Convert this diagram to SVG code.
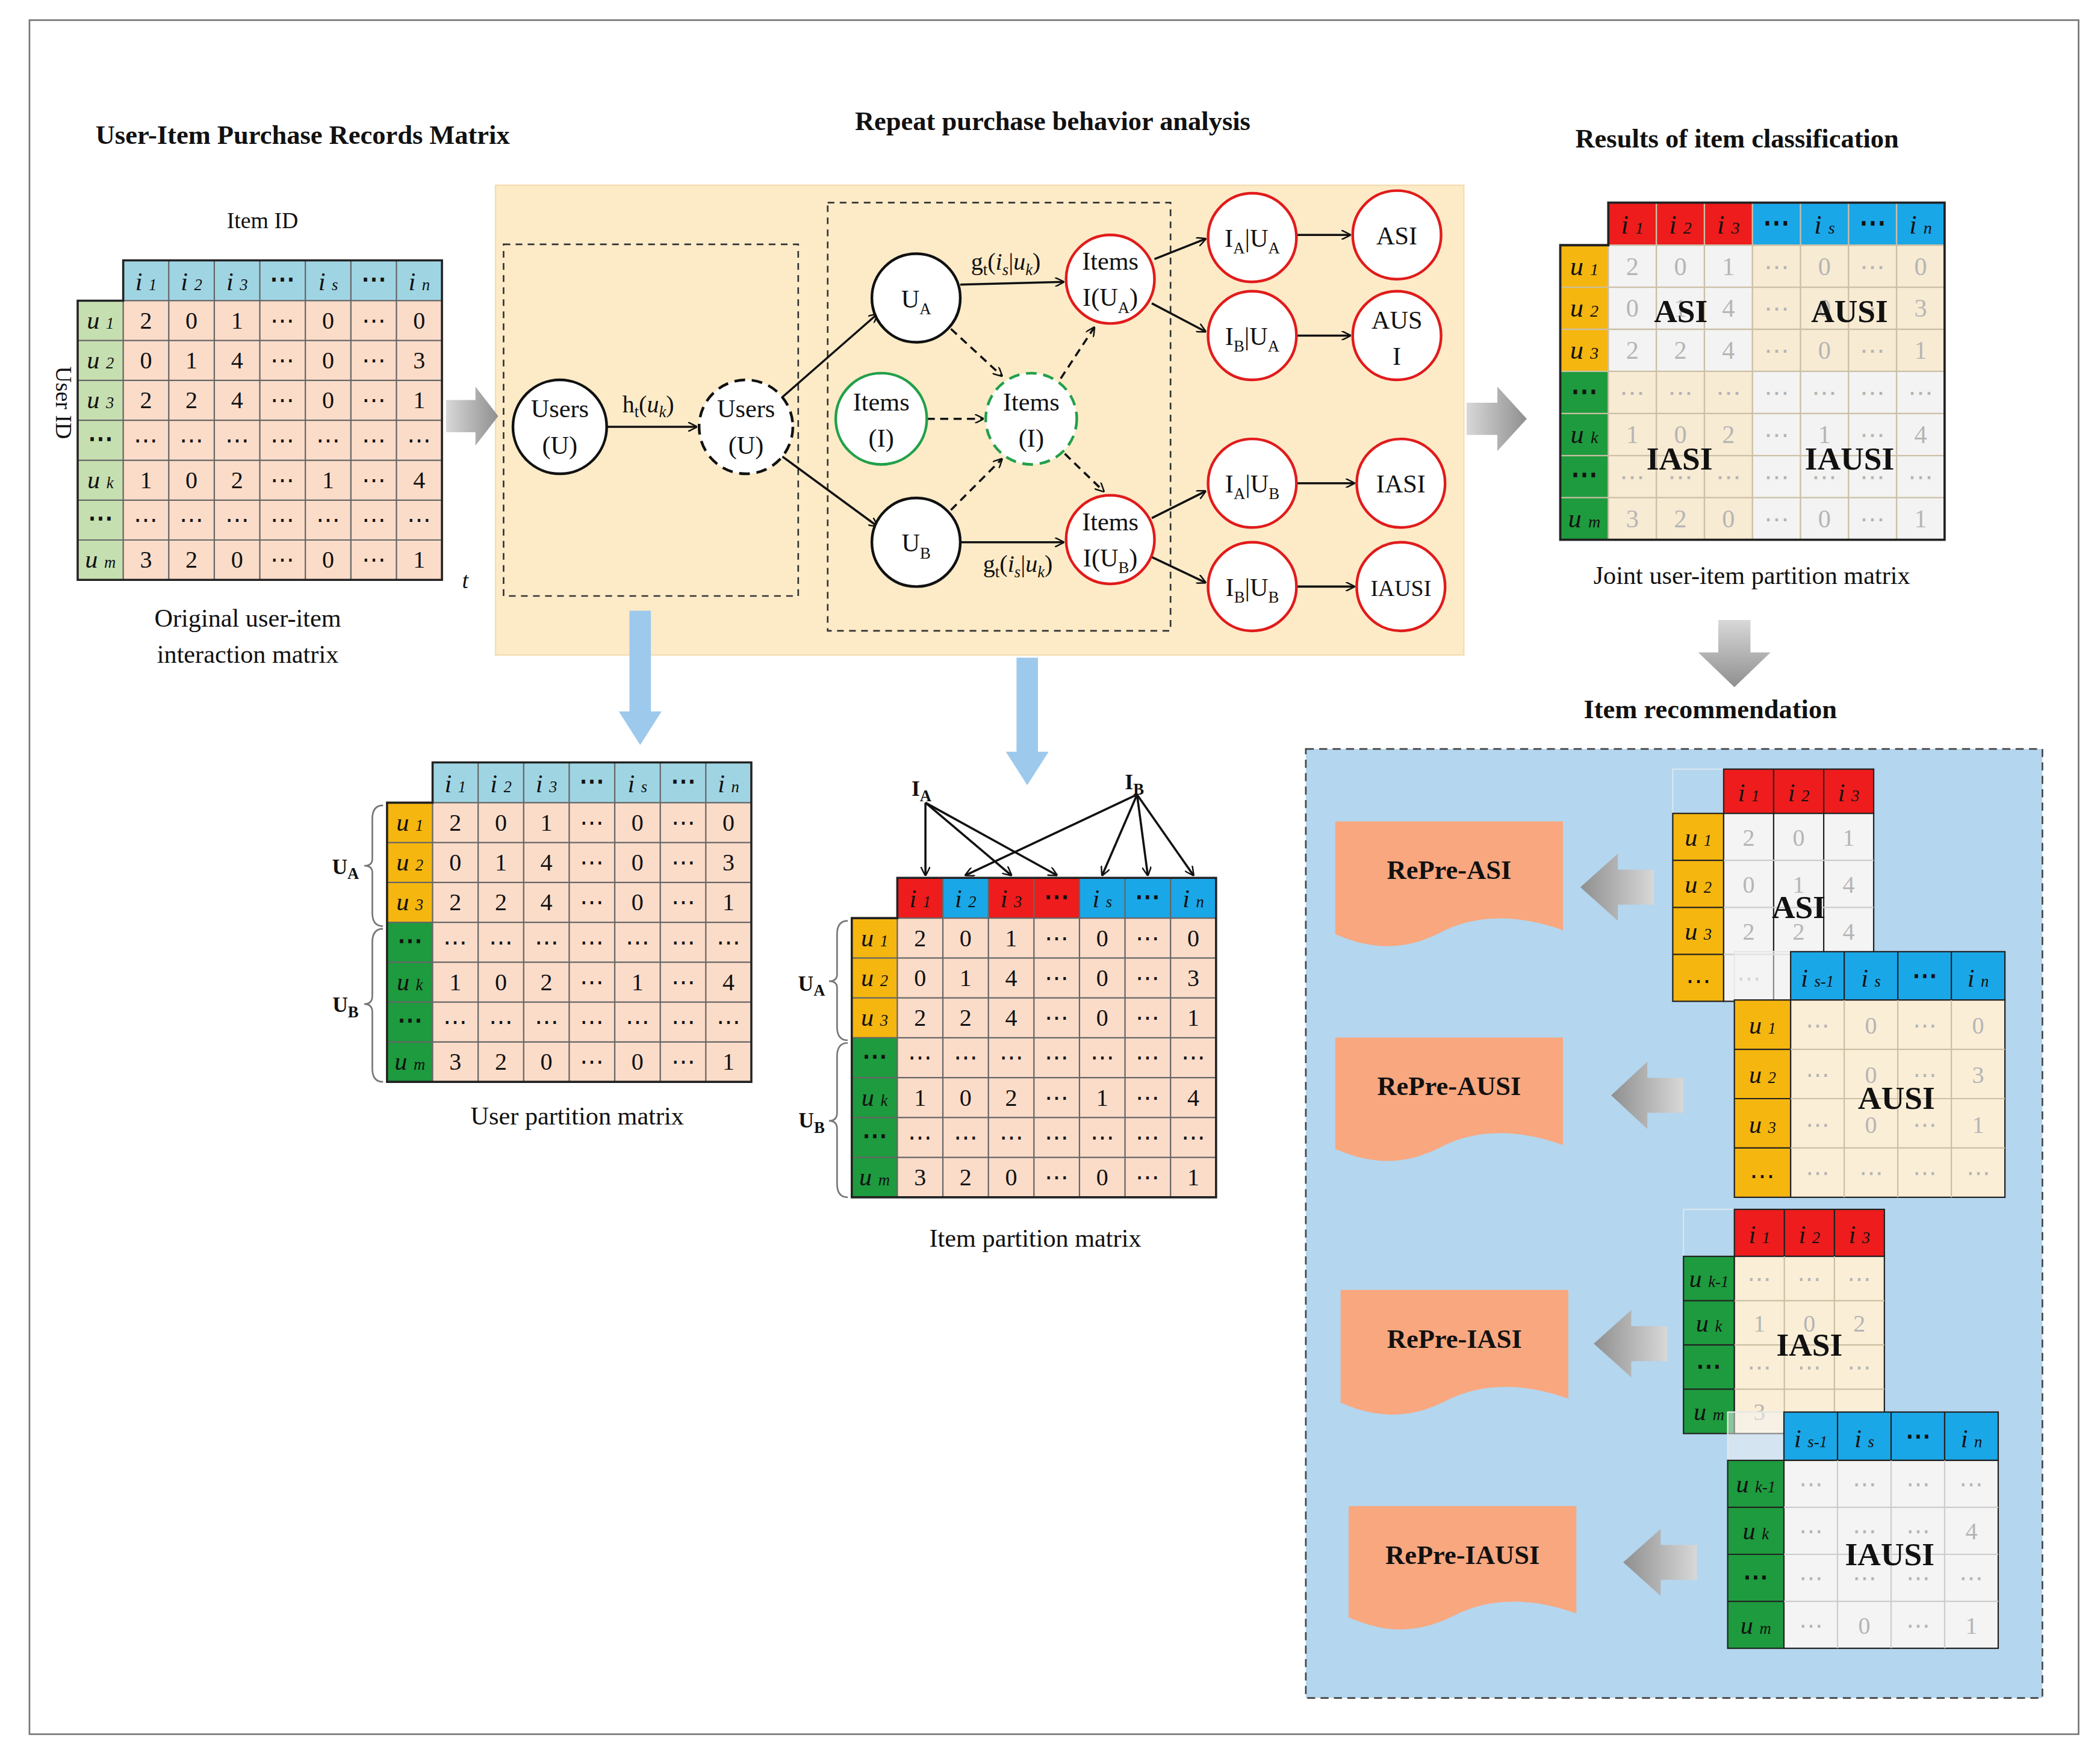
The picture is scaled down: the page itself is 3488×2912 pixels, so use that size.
<svg xmlns="http://www.w3.org/2000/svg" xmlns:xlink="http://www.w3.org/1999/xlink" width="3488" height="2912" viewBox="0 0 3488 2912">
<style>
text{font-family:"Liberation Serif","DejaVu Serif",serif;fill:#111}
.d text{fill:inherit}
.t{font-size:20px;font-weight:bold;text-anchor:middle}
.c{font-size:19px;text-anchor:middle}
.n{font-size:19px;text-anchor:middle}
.sb{font-size:12px}
.hd{font-size:19px;font-style:italic;text-anchor:middle}
.big{font-size:24px;font-weight:bold;text-anchor:middle}
.d{font-size:18px;text-anchor:middle}
.node{fill:#fff;stroke:#111;stroke-width:2}
.red{fill:#fff;stroke:#e11b1b;stroke-width:2}
.grn{fill:#fff;stroke:#22a04a;stroke-width:2}
.e{fill:none;stroke:#111;stroke-width:1.6;marker-end:url(#ah)}
.ed{fill:none;stroke:#111;stroke-width:1.6;stroke-dasharray:6 4;marker-end:url(#ah)}
.box{fill:none;stroke:#333;stroke-width:1.2;stroke-dasharray:5 4}
.lbl{font-size:18px;text-anchor:middle}
.rp{fill:#f9a77f}
.rpt{font-size:20px;font-weight:bold;text-anchor:middle}
</style>
<defs>
<marker id="ah" viewBox="0 0 10 10" refX="9" refY="5" markerWidth="7" markerHeight="7" orient="auto" markerUnits="userSpaceOnUse"><path d="M0,0 L10,5 L0,10" fill="none" stroke="#111" stroke-width="1.6"/></marker>
<linearGradient id="gg" x1="0" x2="1" y1="0" y2="0"><stop offset="0" stop-color="#d8d8d8"/><stop offset="1" stop-color="#8f8f8f"/></linearGradient>
<linearGradient id="ggl" x1="1" x2="0" y1="0" y2="0"><stop offset="0" stop-color="#d8d8d8"/><stop offset="1" stop-color="#8f8f8f"/></linearGradient>
<linearGradient id="ggd" x1="0" x2="0" y1="0" y2="1"><stop offset="0" stop-color="#d8d8d8"/><stop offset="1" stop-color="#8f8f8f"/></linearGradient>
<g id="grid">
<path d="M34,0V238M68,0V238M102,0V238M136,0V238M170,0V238M204,0V238M238,0V238M0,30H272M0,59.7H272M0,89.4H272M0,119.1H272M0,148.9H272M0,178.6H272M0,208.3H272" fill="none" stroke="currentColor" stroke-width="1"/>
<path d="M34,0H272V238H0V30H34Z" fill="none" stroke="#222" stroke-width="1.6"/>
<g class="d">
<text x="51 85 119 153 187 221 255" y="51">201⋯0⋯0</text>
<text x="51 85 119 153 187 221 255" y="80.6">014⋯0⋯3</text>
<text x="51 85 119 153 187 221 255" y="110.3">224⋯0⋯1</text>
<text x="51 85 119 153 187 221 255" y="140">⋯⋯⋯⋯⋯⋯⋯</text>
<text x="51 85 119 153 187 221 255" y="169.7">102⋯1⋯4</text>
<text x="51 85 119 153 187 221 255" y="199.4">⋯⋯⋯⋯⋯⋯⋯</text>
<text x="51 85 119 153 187 221 255" y="229.1">320⋯0⋯1</text>
</g>
<g class="hd">
<text x="51" y="22">i <tspan class="sb">1</tspan></text>
<text x="85" y="22">i <tspan class="sb">2</tspan></text>
<text x="119" y="22">i <tspan class="sb">3</tspan></text>
<text x="153" y="20" style="font-style:normal;font-weight:bold">⋯</text>
<text x="187" y="22">i <tspan class="sb">s</tspan></text>
<text x="221" y="20" style="font-style:normal;font-weight:bold">⋯</text>
<text x="255" y="22">i <tspan class="sb">n</tspan></text>
<text x="17" y="51">u <tspan class="sb">1</tspan></text>
<text x="17" y="80.6">u <tspan class="sb">2</tspan></text>
<text x="17" y="110.3">u <tspan class="sb">3</tspan></text>
<text x="17" y="139" style="font-style:normal;font-weight:bold">⋯</text>
<text x="17" y="169.7">u <tspan class="sb">k</tspan></text>
<text x="17" y="198" style="font-style:normal;font-weight:bold">⋯</text>
<text x="17" y="229.1">u <tspan class="sb">m</tspan></text>
</g>
</g>
</defs>
<rect width="3488" height="2912" fill="#fff"/>
<g transform="scale(2.2245 2.2297)">
<rect x="22" y="15" width="1530" height="1277" fill="none" stroke="#777" stroke-width="1.2"/>
<g id="titles">
<text class="t" x="226" y="107">User-Item Purchase Records Matrix</text>
<text class="t" x="786" y="97">Repeat purchase behavior analysis</text>
<text class="t" x="1297" y="110">Results of item classification</text>
<text class="t" x="1277" y="535">Item recommendation</text>
</g>
<g id="matrix-original">
<g transform="translate(58,194)">
<rect x="34" y="0" width="238" height="30" fill="#9fd5e3"/>
<rect x="0" y="30" width="34" height="208" fill="#c6dfb0"/>
<rect x="34" y="30" width="238" height="208" fill="#fbdcc9"/>
<use xlink:href="#grid" style="color:#666;fill:#111"/>
</g>
<text class="c" x="196" y="170" style="font-size:17px">Item ID</text>
<text class="c" x="42" y="300" style="font-size:17px" transform="rotate(90 42 300)">User ID</text>
<text x="345" y="438" style="font-size:17px;font-style:italic">t</text>
<text class="c" x="185" y="467">Original user-item</text>
<text class="c" x="185" y="494">interaction matrix</text>
</g>
<g id="analysis-panel">
<rect x="370" y="138" width="723" height="350" fill="#fdebc8" stroke="#f3dcae"/>
<rect class="box" x="376" y="182" width="220" height="262"/>
<rect class="box" x="618" y="151" width="256" height="319"/>
</g>
<g id="connectors">
<path class="e" d="M453,318H520"/>
<path class="e" d="M584,296L655,234"/>
<path class="e" d="M584,340L655,392"/>
<path class="e" d="M717,212L794,210"/>
<path class="e" d="M717,404L794,404"/>
<path class="ed" d="M692,312H734"/>
<path class="ed" d="M710,245L748,280"/>
<path class="ed" d="M710,380L748,342"/>
<path class="ed" d="M792,282L817,244"/>
<path class="ed" d="M795,338L824,366"/>
<path class="e" d="M862,193L900,178"/>
<path class="e" d="M860,226L900,247"/>
<path class="e" d="M860,386L900,366"/>
<path class="e" d="M860,415L900,434"/>
<path class="e" d="M968,175H1008"/>
<path class="e" d="M968,250H1008"/>
<path class="e" d="M968,360H1011"/>
<path class="e" d="M968,437H1011"/>
<path class="e" d="M691,598L691,652"/>
<path class="e" d="M691,598L755,652"/>
<path class="e" d="M691,598L789,652"/>
<path class="e" d="M849,592L721,652"/>
<path class="e" d="M849,592L823,652"/>
<path class="e" d="M849,592L857,652"/>
<path class="e" d="M849,592L891,652"/>
<text class="lbl" x="484" y="307">h<tspan class="sb" dy="4">t</tspan><tspan dy="-4">(</tspan><tspan font-style="italic">u</tspan><tspan class="sb" dy="4" font-style="italic">k</tspan><tspan dy="-4">)</tspan></text>
<text class="lbl" x="751" y="201">g<tspan class="sb" dy="4">t</tspan><tspan dy="-4">(</tspan><tspan font-style="italic">i</tspan><tspan class="sb" dy="4" font-style="italic">s</tspan><tspan dy="-4">|</tspan><tspan font-style="italic">u</tspan><tspan class="sb" dy="4" font-style="italic">k</tspan><tspan dy="-4">)</tspan></text>
<text class="lbl" x="760" y="426">g<tspan class="sb" dy="4">t</tspan><tspan dy="-4">(</tspan><tspan font-style="italic">i</tspan><tspan class="sb" dy="4" font-style="italic">s</tspan><tspan dy="-4">|</tspan><tspan font-style="italic">u</tspan><tspan class="sb" dy="4" font-style="italic">k</tspan><tspan dy="-4">)</tspan></text>
</g>
<g id="n-users"><circle class="node" cx="418" cy="318" r="35"/><text class="n" x="418" y="311">Users</text><text class="n" x="418" y="338">(U)</text></g>
<g id="n-users2"><circle class="node" cx="557" cy="318" r="35" style="stroke-dasharray:8 5"/><text class="n" x="557" y="311">Users</text><text class="n" x="557" y="338">(U)</text></g>
<g id="n-ua"><circle class="node" cx="684" cy="222" r="33"/><text class="n" x="684" y="229">U<tspan class="sb" dy="5">A</tspan></text></g>
<g id="n-ub"><circle class="node" cx="684" cy="404" r="33"/><text class="n" x="684" y="411">U<tspan class="sb" dy="5">B</tspan></text></g>
<g id="n-items"><circle class="grn" cx="658" cy="312" r="34"/><text class="n" x="658" y="306">Items</text><text class="n" x="658" y="333">(I)</text></g>
<g id="n-items2"><circle class="grn" cx="770" cy="312" r="34" style="stroke-dasharray:8 5"/><text class="n" x="770" y="306">Items</text><text class="n" x="770" y="333">(I)</text></g>
<g id="n-iua"><circle class="red" cx="829" cy="208" r="33"/><text class="n" x="829" y="201">Items</text><text class="n" x="829" y="228">I(U<tspan class="sb" dy="5">A</tspan><tspan dy="-5">)</tspan></text></g>
<g id="n-iub"><circle class="red" cx="829" cy="402" r="33"/><text class="n" x="829" y="395">Items</text><text class="n" x="829" y="422">I(U<tspan class="sb" dy="5">B</tspan><tspan dy="-5">)</tspan></text></g>
<g id="n-iaua"><circle class="red" cx="935" cy="177" r="33"/><text class="n" x="935" y="184">I<tspan class="sb" dy="5">A</tspan><tspan dy="-5">|U</tspan><tspan class="sb" dy="5">A</tspan></text></g>
<g id="n-ibua"><circle class="red" cx="935" cy="250" r="33"/><text class="n" x="935" y="257">I<tspan class="sb" dy="5">B</tspan><tspan dy="-5">|U</tspan><tspan class="sb" dy="5">A</tspan></text></g>
<g id="n-iaub"><circle class="red" cx="935" cy="360" r="33"/><text class="n" x="935" y="367">I<tspan class="sb" dy="5">A</tspan><tspan dy="-5">|U</tspan><tspan class="sb" dy="5">B</tspan></text></g>
<g id="n-ibub"><circle class="red" cx="935" cy="437" r="33"/><text class="n" x="935" y="444">I<tspan class="sb" dy="5">B</tspan><tspan dy="-5">|U</tspan><tspan class="sb" dy="5">B</tspan></text></g>
<g id="n-asi"><circle class="red" cx="1043" cy="175" r="33"/><text class="n" x="1043" y="182">ASI</text></g>
<g id="n-ausi"><circle class="red" cx="1043" cy="250" r="33"/><text class="n" x="1043" y="245">AUS</text><text class="n" x="1043" y="272">I</text></g>
<g id="n-iasi"><circle class="red" cx="1046" cy="360" r="33"/><text class="n" x="1046" y="367">IASI</text></g>
<g id="n-iausi"><circle class="red" cx="1046" cy="437" r="33"/><text class="n" x="1046" y="444" style="font-size:17px">IAUSI</text></g>
<g id="big-arrows">
<path d="M333,298H355V288L372,310L355,332V322H333Z" fill="url(#gg)"/>
<path d="M1095,300H1118V288L1140,312L1118,336V324H1095Z" fill="url(#gg)"/>
<path d="M1283,462H1307V486H1322L1295,512L1268,486H1283Z" fill="url(#ggd)"/>
<path d="M470,455H486V530H494L478,555L462,530H470Z" fill="#9dc9ec"/>
<path d="M759,490H775V560H783L767,585L751,560H759Z" fill="#9dc9ec"/>
</g>
<g id="matrix-user">
<g transform="translate(289,568)">
<rect x="34" y="0" width="238" height="30" fill="#9fd5e3"/>
<rect x="0" y="30" width="34" height="89.1" fill="#f5b60f"/>
<rect x="0" y="119.1" width="34" height="118.9" fill="#1e9b3e"/>
<rect x="34" y="30" width="238" height="208" fill="#fbdcc9"/>
<use xlink:href="#grid" style="color:#666;fill:#111"/>
</g>
<path d="M286,600Q278,600 278,610V640Q278,645 272,645Q278,645 278,650V680Q278,690 286,690M286,692Q278,692 278,702V742Q278,748 272,748Q278,748 278,754V796Q278,806 286,806" fill="none" stroke="#777" stroke-width="1.2"/>
<text class="c" x="258" y="651" style="font-weight:bold;font-size:16px">U<tspan class="sb" dy="4">A</tspan></text>
<text class="c" x="258" y="754" style="font-weight:bold;font-size:16px">U<tspan class="sb" dy="4">B</tspan></text>
<text class="c" x="431" y="838">User partition matrix</text>
</g>
<g id="matrix-item">
<g transform="translate(636,654)">
<rect x="34" y="0" width="34" height="30" fill="#ee1c1c"/>
<rect x="68" y="0" width="34" height="30" fill="#1aa7e8"/>
<rect x="102" y="0" width="68" height="30" fill="#ee1c1c"/>
<rect x="170" y="0" width="102" height="30" fill="#1aa7e8"/>
<rect x="0" y="30" width="34" height="89.1" fill="#f5b60f"/>
<rect x="0" y="119.1" width="34" height="118.9" fill="#1e9b3e"/>
<rect x="34" y="30" width="238" height="208" fill="#fbdcc9"/>
<use xlink:href="#grid" style="color:#666;fill:#111"/>
</g>
<path d="M633,686Q625,686 625,696V726Q625,731 619,731Q625,731 625,736V765Q625,775 633,775M633,777Q625,777 625,787V829Q625,835 619,835Q625,835 625,841V882Q625,892 633,892" fill="none" stroke="#777" stroke-width="1.2"/>
<text class="c" x="606" y="738" style="font-weight:bold;font-size:16px">U<tspan class="sb" dy="4">A</tspan></text>
<text class="c" x="606" y="840" style="font-weight:bold;font-size:16px">U<tspan class="sb" dy="4">B</tspan></text>
<text class="c" x="688" y="593" style="font-weight:bold;font-size:16px">I<tspan class="sb" dy="4">A</tspan></text>
<text class="c" x="847" y="588" style="font-weight:bold;font-size:16px">I<tspan class="sb" dy="4">B</tspan></text>
<text class="c" x="773" y="929">Item partition matrix</text>
</g>
<g id="matrix-joint">
<g transform="translate(1165,151) scale(1.055)">
<rect x="34" y="0" width="102" height="30" fill="#ee1c1c"/>
<rect x="136" y="0" width="136" height="30" fill="#1aa7e8"/>
<rect x="0" y="30" width="34" height="89.1" fill="#f5b60f"/>
<rect x="0" y="119.1" width="34" height="118.9" fill="#1e9b3e"/>
<rect x="34" y="30" width="102" height="89.1" fill="#f3f3f3"/>
<rect x="136" y="30" width="136" height="89.1" fill="#f8ebd3"/>
<rect x="34" y="119.1" width="102" height="118.9" fill="#f8ebd3"/>
<rect x="136" y="119.1" width="136" height="118.9" fill="#f3f3f3"/>
<use xlink:href="#grid" style="color:#cbbfa6;fill:#b5b5b5"/>
</g>
<text class="big" x="1255" y="240">ASI</text>
<text class="big" x="1381" y="240">AUSI</text>
<text class="big" x="1254" y="350">IASI</text>
<text class="big" x="1381" y="350">IAUSI</text>
<text class="c" x="1308" y="435">Joint user-item partition matrix</text>
</g>
<g id="rec-panel">
<rect x="975" y="558" width="550" height="707" fill="#b4d6ee" stroke="#444" stroke-width="1.2" stroke-dasharray="6 4"/>
</g>
<g id="rp-asi"><path class="rp" d="M997,612H1167V693C1130,680 1100,682 1075,695C1045,710 1020,706 997,696Z"/><text class="rpt" x="1082" y="655">RePre-ASI</text></g>
<g id="rp-ausi"><path class="rp" d="M997,773H1167V853C1130,840 1100,842 1075,855C1045,870 1020,866 997,856Z"/><text class="rpt" x="1082" y="816">RePre-AUSI</text></g>
<g id="rp-iasi"><path class="rp" d="M1001,961H1171V1042C1134,1029 1104,1031 1079,1044C1049,1059 1024,1055 1001,1045Z"/><text class="rpt" x="1086" y="1004">RePre-IASI</text></g>
<g id="rp-iausi"><path class="rp" d="M1007,1122H1177V1202C1140,1189 1110,1191 1085,1204C1055,1219 1030,1215 1007,1205Z"/><text class="rpt" x="1092" y="1165">RePre-IAUSI</text></g>
<g id="rec-arrows">
<path d="M1235,648H1208V636L1180,661L1208,686V674H1235Z" fill="url(#ggl)"/>
<path d="M1257,803H1230V791L1203,816L1230,841V829H1257Z" fill="url(#ggl)"/>
<path d="M1245,988H1218V976L1190,1001L1218,1026V1014H1245Z" fill="url(#ggl)"/>
<path d="M1267,1151H1240V1139L1212,1164L1240,1189V1177H1267Z" fill="url(#ggl)"/>
</g>
<g id="rec-asi">
<rect x="1249" y="573" width="38" height="33" fill="none" stroke="#d8e6f0"/>
<rect x="1287" y="573" width="112" height="33" fill="#ee1c1c" stroke="#222"/>
<rect x="1249" y="606" width="38" height="140" fill="#f5b60f" stroke="#222"/>
<rect x="1287" y="606" width="112" height="140" fill="#f4f4f4" stroke="#222"/>
<path d="M1324.3,573V746M1361.7,573V746" stroke="#222" stroke-width="1"/>
<path d="M1287,641H1399M1287,676H1399M1287,711H1399" stroke="#ccc"/>
<path d="M1249,641H1287M1249,676H1287M1249,711H1287" stroke="#222"/>
<g class="hd"><text x="1305.7" y="597">i <tspan class="sb">1</tspan></text><text x="1343" y="597">i <tspan class="sb">2</tspan></text><text x="1380.3" y="597">i <tspan class="sb">3</tspan></text>
<text x="1268" y="630">u <tspan class="sb">1</tspan></text><text x="1268" y="665">u <tspan class="sb">2</tspan></text><text x="1268" y="700">u <tspan class="sb">3</tspan></text><text x="1268" y="737" style="font-style:normal">⋯</text></g>
<g class="d" style="fill:#b5b5b5"><text x="1305.7 1343 1380.3" y="630">201</text><text x="1305.7 1343 1380.3" y="665">014</text><text x="1305.7 1343 1380.3" y="700">224</text><text x="1305.7" y="735">⋯</text></g>
<text class="big" x="1343" y="684">ASI</text>
</g>
<g id="rec-ausi">
<rect x="1295" y="709" width="42" height="36" fill="#f4f4f4" fill-opacity="0.5" stroke="#e6e6e6"/>
<rect x="1337" y="709" width="160" height="36" fill="#1aa7e8" stroke="#222"/>
<rect x="1295" y="745" width="42" height="147" fill="#f5b60f" stroke="#222"/>
<rect x="1337" y="745" width="160" height="147" fill="#fbeed6" stroke="#222"/>
<path d="M1377,709V745M1417,709V745M1457,709V745M1295,781.75H1337M1295,818.5H1337M1295,855.25H1337" stroke="#222"/>
<path d="M1377,745V892M1417,745V892M1457,745V892M1337,781.75H1497M1337,818.5H1497M1337,855.25H1497" stroke="#cdbfa4"/>
<g class="hd"><text x="1357" y="735">i <tspan class="sb">s-1</tspan></text><text x="1397" y="735">i <tspan class="sb">s</tspan></text><text x="1437" y="733" style="font-style:normal;font-weight:bold">⋯</text><text x="1477" y="735">i <tspan class="sb">n</tspan></text>
<text x="1316" y="770">u <tspan class="sb">1</tspan></text><text x="1316" y="807">u <tspan class="sb">2</tspan></text><text x="1316" y="844">u <tspan class="sb">3</tspan></text><text x="1316" y="882" style="font-style:normal">⋯</text></g>
<g class="d" style="fill:#b5b5b5"><text x="1357 1397 1437 1477" y="770">⋯0⋯0</text><text x="1357 1397 1437 1477" y="807">⋯0⋯3</text><text x="1357 1397 1437 1477" y="844">⋯0⋯1</text><text x="1357 1397 1437 1477" y="880">⋯⋯⋯⋯</text></g>
<text class="big" x="1416" y="826">AUSI</text>
</g>
<g id="rec-iasi">
<rect x="1257" y="901" width="38" height="35" fill="none" stroke="#d8e6f0"/>
<rect x="1295" y="901" width="112" height="35" fill="#ee1c1c" stroke="#222"/>
<rect x="1257" y="936" width="38" height="132" fill="#1e9b3e" stroke="#222"/>
<rect x="1295" y="936" width="112" height="132" fill="#fbeed6" stroke="#222"/>
<path d="M1332.3,901V936M1369.7,901V936M1257,969H1295M1257,1002H1295M1257,1035H1295" stroke="#222"/>
<path d="M1332.3,936V1068M1369.7,936V1068M1295,969H1407M1295,1002H1407M1295,1035H1407" stroke="#cdbfa4"/>
<g class="hd"><text x="1313.7" y="926">i <tspan class="sb">1</tspan></text><text x="1351" y="926">i <tspan class="sb">2</tspan></text><text x="1388.3" y="926">i <tspan class="sb">3</tspan></text>
<text x="1276" y="959">u <tspan class="sb">k-1</tspan></text><text x="1276" y="992">u <tspan class="sb">k</tspan></text><text x="1276" y="1024" style="font-style:normal;font-weight:bold">⋯</text><text x="1276" y="1058">u <tspan class="sb">m</tspan></text></g>
<g class="d" style="fill:#b5b5b5"><text x="1313.7 1351 1388.3" y="959">⋯⋯⋯</text><text x="1313.7 1351 1388.3" y="992">102</text><text x="1313.7 1351 1388.3" y="1025">⋯⋯⋯</text><text x="1313.7" y="1058">3</text></g>
<text class="big" x="1351" y="1010">IASI</text>
</g>
<g id="rec-iausi">
<rect x="1290" y="1052" width="42" height="36" fill="#f4f4f4" fill-opacity="0.5" stroke="#e6e6e6"/>
<rect x="1332" y="1052" width="160" height="36" fill="#1aa7e8" stroke="#222"/>
<rect x="1290" y="1088" width="42" height="140" fill="#1e9b3e" stroke="#222"/>
<rect x="1332" y="1088" width="160" height="140" fill="#f4f4f4" stroke="#222"/>
<path d="M1372,1052V1088M1412,1052V1088M1452,1052V1088M1290,1123H1332M1290,1158H1332M1290,1193H1332" stroke="#222"/>
<path d="M1372,1088V1228M1412,1088V1228M1452,1088V1228M1332,1123H1492M1332,1158H1492M1332,1193H1492" stroke="#ccc"/>
<g class="hd"><text x="1352" y="1078">i <tspan class="sb">s-1</tspan></text><text x="1392" y="1078">i <tspan class="sb">s</tspan></text><text x="1432" y="1076" style="font-style:normal;font-weight:bold">⋯</text><text x="1472" y="1078">i <tspan class="sb">n</tspan></text>
<text x="1311" y="1112">u <tspan class="sb">k-1</tspan></text><text x="1311" y="1147">u <tspan class="sb">k</tspan></text><text x="1311" y="1181" style="font-style:normal;font-weight:bold">⋯</text><text x="1311" y="1217">u <tspan class="sb">m</tspan></text></g>
<g class="d" style="fill:#b5b5b5"><text x="1352 1392 1432 1472" y="1112">⋯⋯⋯⋯</text><text x="1352 1392 1432 1472" y="1147">⋯⋯⋯4</text><text x="1352 1392 1432 1472" y="1182">⋯⋯⋯⋯</text><text x="1352 1392 1432 1472" y="1217">⋯0⋯1</text></g>
<text class="big" x="1411" y="1166">IAUSI</text>
</g>
</g>
</svg>
